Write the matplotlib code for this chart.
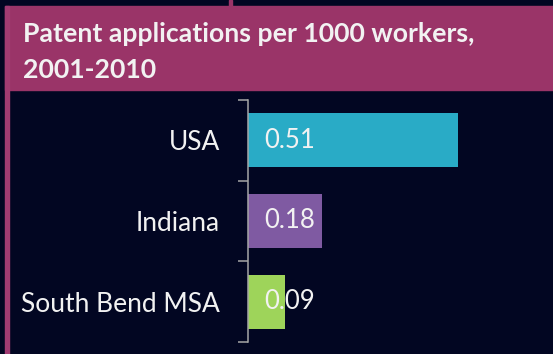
import matplotlib
matplotlib.use("Agg")
import matplotlib.pyplot as plt
from matplotlib.patches import Rectangle

# chart data
regions = ["USA", "Indiana", "South Bend MSA"]
patents_per_1000 = [0.51, 0.18, 0.09]
bar_colors = ["#29ABC6", "#7F5AA2", "#9ED45A"]
title_lines = ["Patent applications per 1000 workers,", "2001-2010"]

BG = "#020622"
BANNER = "#9A3468"
TEXT = "#F2F2F2"
W, H = 553, 354

plt.rcParams["font.family"] = ["Lato", "DejaVu Sans"]

fig = plt.figure(figsize=(W / 100, H / 100), dpi=100)
fig.patch.set_facecolor(BG)

# header banner and panel frame
fig.patches.append(Rectangle((5 / W, 1 - 90 / H), 1 - 5 / W, 84 / H,
                             transform=fig.transFigure, color=BANNER, zorder=0))
fig.patches.append(Rectangle((5 / W, 0), 4 / W, 1 - 6 / H,
                             transform=fig.transFigure, color="#A13B72", zorder=0))
fig.patches.append(Rectangle((229 / W, 1 - 6 / H), 3 / W, 6 / H,
                             transform=fig.transFigure, color=BANNER, zorder=0))

baselines = [42, 78]
for line, y in zip(title_lines, baselines):
    fig.text(23 / W, 1 - y / H, line, color=TEXT, fontsize=19.2,
             fontweight="bold", va="baseline", ha="left")

ax = fig.add_axes([248 / W, 1 - 342 / H, (W - 248) / W, 242 / H])
ax.set_facecolor(BG)

ypos = list(range(len(regions)))
ax.barh(ypos, patents_per_1000, height=0.67, color=bar_colors)
ax.set_xlim(0, (W - 248) / 411.8)
ax.set_ylim(len(regions) - 0.5, -0.5)

for y, v in zip(ypos, patents_per_1000):
    ax.annotate(f"{v:.2f}", xy=(0, y), xytext=(11.5, 0), textcoords="offset points",
                va="center", ha="left", color=TEXT, fontsize=18.5)

# category labels centred on bars, tick marks on the boundaries
ax.set_yticks(ypos)
ax.set_yticklabels(regions, color=TEXT, fontsize=19)
ax.tick_params(axis="y", which="major", length=0, pad=20)
ax.set_yticks([y - 0.5 for y in ypos] + [len(regions) - 0.5], minor=True)
ax.tick_params(axis="y", which="minor", length=7.5, width=1.1, color="#A6A6A6")
ax.set_xticks([])

for side in ["top", "right", "bottom"]:
    ax.spines[side].set_visible(False)
ax.spines["left"].set_color("#A6A6A6")
ax.spines["left"].set_linewidth(1.1)

fig.savefig("out.png", dpi=100, facecolor=BG)
